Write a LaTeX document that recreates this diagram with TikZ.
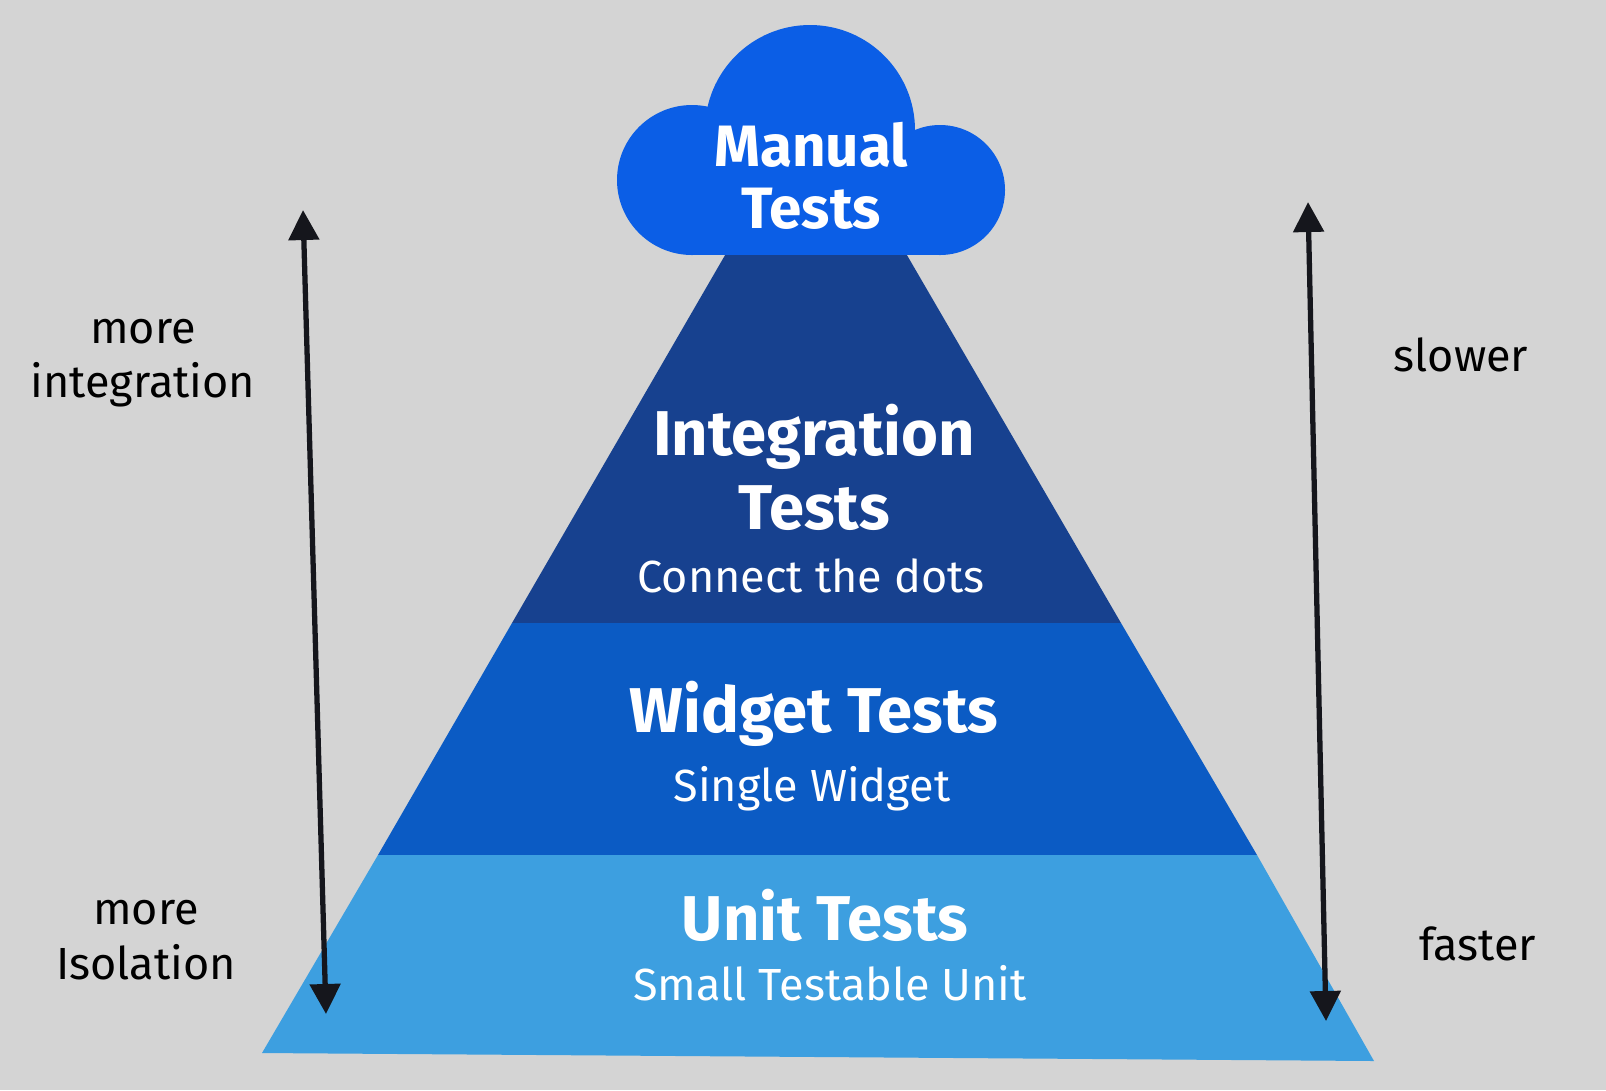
\documentclass[tikz,border=0pt]{standalone}
\usepackage{fontspec}
\setmainfont{Fira Sans}
\usetikzlibrary{arrows.meta}
\definecolor{fundo}{HTML}{D4D4D4}
\definecolor{nuvem}{HTML}{0B5EE6}
\definecolor{integ}{HTML}{17418F}
\definecolor{widget}{HTML}{0B5BC4}
\definecolor{unit}{HTML}{3D9FE0}
\definecolor{seta}{HTML}{15161C}
\tikzset{
  titulo/.style={text=white, font=\fontsize{18}{21}\selectfont\bfseries, align=center, inner sep=0pt},
  subtitulo/.style={text=white, font=\fontsize{12.8}{15}\selectfont, inner sep=0pt},
  lateral/.style={text=black, font=\fontsize{12.8}{15.5}\selectfont, align=center, inner sep=0pt},
  setadupla/.style={draw=seta, line width=1.5pt, {Triangle[width=3mm,length=3mm]}-{Triangle[width=3mm,length=3mm]}}
}
\begin{document}
\begin{tikzpicture}[x=0.01cm,y=-0.01cm]
    % fundo
    \fill[fundo] (0,0) rectangle (1606,1090);

    % pirâmide
    \fill[integ]  (728,250) -- (904,250) -- (1121,623) -- (512,623) -- cycle;
    \fill[widget] (512,623) -- (1121,623) -- (1257,855) -- (378,855) -- cycle;
    \fill[unit]   (378,855) -- (1257,855) -- (1374,1061) -- (262,1053) -- cycle;

    % nuvem
    \fill[nuvem] (810,130) circle (105);
    \fill[nuvem] (692,180) circle (75);
    \fill[nuvem] (940,190) circle (65);
    \fill[nuvem] (692,150) rectangle (940,255);

    % setas
    \coordinate (esqA) at (303,210);
    \coordinate (esqB) at (326,1014);
    \coordinate (dirA) at (1308,202);
    \coordinate (dirB) at (1326,1021);
    \draw[setadupla] (esqA) -- (esqB);
    \draw[setadupla] (dirA) -- (dirB);

    % rótulos
    \node[titulo, font=\fontsize{16.6}{17.5}\selectfont\bfseries] (manual) at (811,176) {Manual\\Tests};
    \node[titulo] (integracao) at (814,467) {Integration\\Tests};
    \node[subtitulo] (pontos) at (811,576) {Connect the dots};
    \node[titulo] (widgets) at (814,714) {Widget Tests};
    \node[subtitulo] (single) at (812,789) {Single Widget};
    \node[titulo] (unidade) at (825,915) {Unit Tests};
    \node[subtitulo] (small) at (830,983) {Small Testable Unit};

    \node[lateral] (maisint) at (143,363) {more\\integration};
    \node[lateral] (maisiso) at (146,940) {more\\Isolation};
    \node[lateral] (lento) at (1461,355) {slower};
    \node[lateral] (rapido) at (1478,944) {faster};
\end{tikzpicture}
\end{document}
